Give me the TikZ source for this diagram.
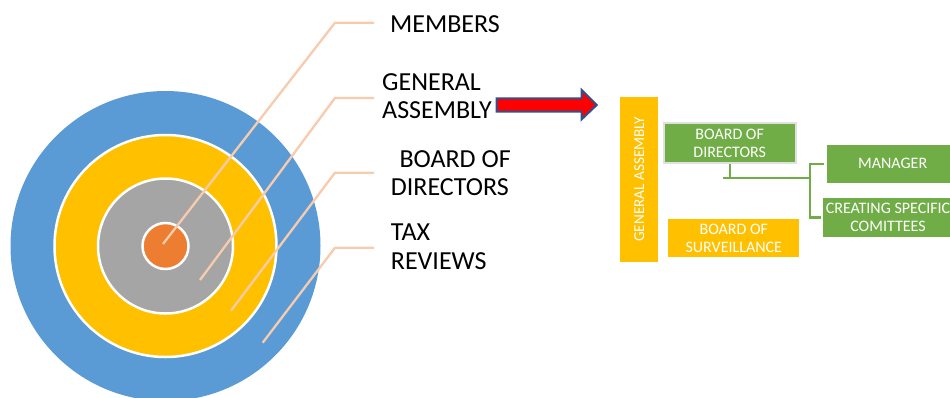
\documentclass[tikz,border=0pt]{standalone}
\usepackage{fontspec}
\setmainfont{Carlito}
\usetikzlibrary{positioning}
\definecolor{ringblue}{HTML}{5B9BD5}
\definecolor{ringyellow}{HTML}{FFC000}
\definecolor{ringgrey}{HTML}{A5A5A5}
\definecolor{ringorange}{HTML}{ED7D31}
\definecolor{leadpink}{HTML}{F8CBAD}
\definecolor{boxgreen}{HTML}{70AD47}
\definecolor{arrowblue}{HTML}{2F528F}
\begin{document}
\begin{tikzpicture}[x=1pt,y=-1pt,
 leader/.style={draw=leadpink,line width=2.3pt},
 biglabel/.style={font=\fontsize{26}{28.3}\selectfont,align=left,anchor=north west,inner sep=0pt},
 orgbox/.style={fill=#1,text=white,font=\fontsize{16}{17.7}\selectfont,align=center,inner sep=0pt},
 link/.style={draw=boxgreen,line width=2.2pt}]
\useasboundingbox (0,0) rectangle (950,397);
\clip (0,0) rectangle (950,397);
\coordinate (c) at (165.5,246);
\fill [ringblue] (c) circle (155pt);
\draw [white,line width=2.5pt,fill=ringyellow] (c) circle (111pt);
\draw [white,line width=2.5pt,fill=ringgrey] (c) circle (67.5pt);
\draw [white,line width=2.5pt,fill=ringorange] (c) circle (23pt);
\node[biglabel] (members) at (390,15) {MEMBERS};
\node[biglabel] (genass) at (382,73.3) {GENERAL\\ASSEMBLY};
\node[biglabel] (boarddir) at (390.7,150) {\hspace*{8.6pt}BOARD OF\\DIRECTORS};
\node[biglabel] (taxrev) at (390.7,224) {TAX\\REVIEWS};
\coordinate (p1) at (163,244);
\coordinate (p2) at (200,280);
\coordinate (p3) at (231,310.7);
\coordinate (p4) at (262.7,342.7);
\draw [leader] (p1) -- (335,22.7) -- (374,22.7);
\draw [leader] (p2) -- (335,98) -- (374,98);
\draw [leader] (p3) -- (335,172.7) -- (374,172.7);
\draw [leader] (p4) -- (335,247.7) -- (374,247.7);
\draw [arrowblue,line width=2pt,fill=red] (496.7,98.3) -- (581.7,98.3) -- (581.7,90) -- (596.7,105)
 -- (581.7,119.3) -- (581.7,111.7) -- (496.7,111.7) -- cycle;
\node[orgbox=ringyellow,rotate=90,font=\fontsize{15.2}{17}\selectfont,minimum width=165pt,minimum height=38.3pt] (ga) at (639.2,179.2) {GENERAL ASSEMBLY};
\node[orgbox=boxgreen,draw=black!12,line width=2pt,minimum width=132pt,minimum height=39.7pt] (bod) at (729.7,143.2) {BOARD OF\\DIRECTORS};
\node[orgbox=boxgreen,minimum width=132pt,minimum height=37.7pt] (mgr) at (892.7,163.8) {MANAGER};
\node[orgbox=boxgreen,minimum width=130.6pt,minimum height=38.4pt] (csc) at (888,217.5) {CREATING SPECIFIC\\COMITTEES};
\node[orgbox=ringyellow,minimum width=131pt,minimum height=38pt] (bos) at (733.8,238.3) {BOARD OF\\SURVEILLANCE};
\coordinate (s) at (723.3,178.3);
\coordinate (j) at (810,178.3);
\draw [link] (bod.south) -- (bod.south |- s);
\draw [link] (s) -- (j);
\draw [link,shorten <=3pt,shorten >=2pt] (mgr.west) -| (j) |- (csc.west);
\end{tikzpicture}
\end{document}
